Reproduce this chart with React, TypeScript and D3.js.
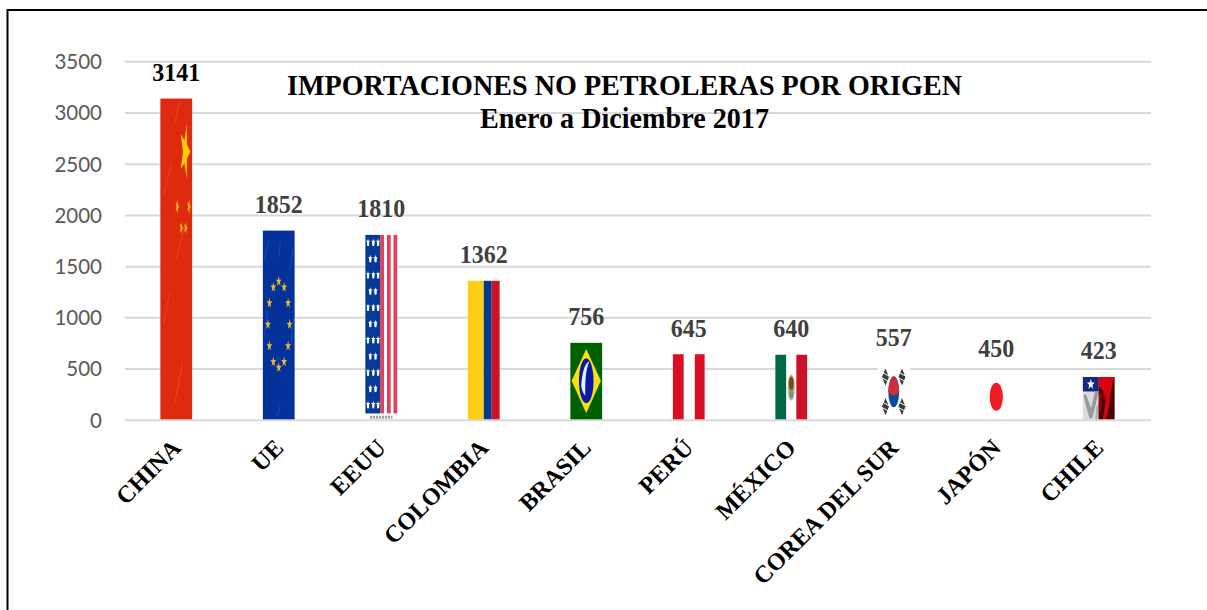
import React from 'react';
import * as d3 from 'd3';

const categories = ['CHINA','UE','EEUU','COLOMBIA','BRASIL','PERÚ','MÉXICO','COREA DEL SUR','JAPÓN','CHILE'];
const values = [3141,1852,1810,1362,756,645,640,557,450,423];
const yTicks = [0,500,1000,1500,2000,2500,3000,3500];

const W = 1207, H = 610;
const x = d3.scaleBand<string>().domain(categories).range([125,1150]).paddingInner(0.69).paddingOuter(0.345);
const y = d3.scaleLinear().domain([0,3500]).range([420.3,61.8]);

function star(cx:number,cy:number,rx:number,ry:number,fill:string,rot=0){
  const pts:[number,number][] = d3.range(10).map(i=>{
    const a=-Math.PI/2+i*Math.PI/5+rot; const r=i%2?0.4:1;
    return [cx+Math.cos(a)*rx*r, cy+Math.sin(a)*ry*r];
  });
  return <polygon key={`${cx}-${cy}`} points={pts.map(p=>p.join(',')).join(' ')} fill={fill}/>;
}

function Flag({name,bx,by,w,h}:{name:string,bx:number,by:number,w:number,h:number}){
  const cx=bx+w/2;
  const px=(f:number)=>bx+w*f, py=(f:number)=>by+h*f;
  const streak=(x0:number,y0:number,x1:number,y1:number,c:string)=>
    <line key={`${x0}-${y0}`} x1={px(x0)} y1={py(y0)} x2={px(x1)} y2={py(y1)} stroke={c} strokeWidth={1} opacity={0.45}/>;
  const poly=(pts:[number,number][],fill:string)=>
    <polygon key={pts.join('|')} points={pts.map(([a,b])=>`${px(a)},${py(b)}`).join(' ')} fill={fill}/>;
  switch(name){
    case 'CHINA': return <g>
      <rect x={bx} y={by} width={w} height={h} fill="#de2b10"/>
      {streak(0.6,0.01,0.45,0.08,'#f0693e')}
      {streak(0.35,0.2,0.1,0.3,'#ee5f36')}
      {streak(0.75,0.4,0.5,0.5,'#ee5f36')}
      {streak(0.3,0.6,0.1,0.7,'#ee5f36')}
      {streak(0.7,0.82,0.45,0.95,'#f0693e')}
      {star(px(0.78),py(0.165),w*0.17,h*0.092,'#fdcf02',Math.PI/2)}
      {star(px(0.53),py(0.336),w*0.065,h*0.026,'#f5b315',Math.PI/2)}
      {star(px(0.9),py(0.336),w*0.065,h*0.026,'#f5b315',Math.PI/2)}
      {star(px(0.66),py(0.402),w*0.065,h*0.022,'#f5b315',Math.PI/2)}
      {star(px(0.8),py(0.402),w*0.065,h*0.022,'#f5b315',Math.PI/2)}
    </g>;
    case 'UE': {
      const ring=d3.range(12).map(i=>{
        const a=i*Math.PI/6;
        return star(cx+Math.sin(a)*w*0.34,py(0.495)-Math.cos(a)*h*0.227,3,5.5,'#e8b92c');
      });
      return <g>
        <rect x={bx} y={by} width={w} height={h} fill="#05319b"/>
        {streak(0.2,0.05,0.05,0.15,'#3f63bb')}
        {streak(0.55,0.05,0.5,0.14,'#3f63bb')}
        {streak(0.95,0.1,0.85,0.2,'#3f63bb')}
        {streak(0.15,0.42,0.05,0.55,'#3f63bb')}
        {streak(0.98,0.45,0.88,0.6,'#3f63bb')}
        {streak(0.55,0.92,0.45,0.98,'#3f63bb')}
        {ring}
      </g>;
    }
    case 'EEUU': {
      const fh=h*0.963;
      const stripes=[0.47,0.68,0.885].map(f=><rect key={f} x={px(f)} y={by} width={w*0.118} height={fh} fill="#e2405a"/>);
      const rows=d3.range(11).flatMap(r=>{
        const cols=r%2?[0.156,0.32]:[0.083,0.25,0.4];
        return cols.map(c=><g key={`${r}-${c}`}>
          {star(px(c),by+fh*(r+0.42)/11,w*0.075,fh*0.018,'#fff')}
          <rect x={px(c)-1} y={by+fh*(r+0.42)/11} width={2} height={fh*0.024} fill="#fff"/>
        </g>);
      });
      return <g>
        <rect x={bx} y={by} width={w} height={h} fill="#fff"/>
        {stripes}
        <rect x={bx} y={by} width={w*0.47} height={fh} fill="#063a96"/>
        {rows}
        <line x1={px(0.15)} x2={px(0.85)} y1={py(0.983)} y2={py(0.983)} stroke="#9a9a9a" strokeWidth={3} strokeDasharray="2 1"/>
      </g>;
    }
    case 'COLOMBIA': return <g>
      <rect x={bx} y={by} width={w*0.5} height={h} fill="#fdce12"/>
      <rect x={px(0.5)} y={by} width={w*0.25} height={h} fill="#053a8e"/>
      <rect x={px(0.75)} y={by} width={w*0.25} height={h} fill="#ce1126"/>
    </g>;
    case 'BRASIL': return <g>
      <rect x={bx} y={by} width={w} height={h} fill="#006000"/>
      <polygon points={`${cx},${py(0.08)} ${px(0.96)},${py(0.49)} ${cx},${py(0.91)} ${px(0.04)},${py(0.49)}`} fill="#f9e10c"/>
      <ellipse cx={cx} cy={py(0.49)} rx={w*0.23} ry={h*0.29} fill="#0a1aa8"/>
      <path d={`M${px(0.34)},${py(0.55)} Q${px(0.4)},${py(0.26)} ${px(0.6)},${py(0.24)} Q${px(0.45)},${py(0.36)} ${px(0.47)},${py(0.68)} Q${px(0.37)},${py(0.64)} ${px(0.34)},${py(0.55)}`} fill="#e8eef8"/>
    </g>;
    case 'PERÚ': return <g>
      <rect x={bx} y={by} width={w} height={h} fill="#fff"/>
      <rect x={bx} y={by} width={w*0.34} height={h} fill="#d91023"/>
      <rect x={px(0.69)} y={by} width={w*0.31} height={h} fill="#d91023"/>
    </g>;
    case 'MÉXICO': return <g>
      <rect x={bx} y={by} width={w} height={h} fill="#fff"/>
      <rect x={bx} y={by} width={w*0.34} height={h} fill="#006847"/>
      <rect x={px(0.66)} y={by} width={w*0.34} height={h} fill="#ce1126"/>
      <ellipse cx={cx} cy={py(0.5)} rx={w*0.115} ry={h*0.2} fill="#c9b48c"/>
      <ellipse cx={cx} cy={py(0.44)} rx={w*0.08} ry={h*0.11} fill="#7a4a1c"/>
      <ellipse cx={cx} cy={py(0.6)} rx={w*0.07} ry={h*0.07} fill="#6f9c8c"/>
    </g>;
    case 'COREA DEL SUR': {
      const ry=h*0.27, cyy=py(0.5), rx=w*0.17;
      const mark=(fx:number,fy:number)=>{
        const mw=w*0.11, mh=h*0.15, mx=px(fx), my=py(fy);
        return <g key={`${fx}-${fy}`}>
          <polygon points={`${mx},${my-mh} ${mx+mw},${my} ${mx},${my+mh} ${mx-mw},${my}`} fill="#3c3c3c"/>
          {[-0.33,0.33].map(t=><line key={t} x1={mx-mw} x2={mx+mw} y1={my+t*mh-2} y2={my+t*mh+2} stroke="#fff" strokeWidth={1}/>)}
        </g>;
      };
      return <g>
        <rect x={bx} y={by} width={w} height={h} fill="#fff"/>
        {mark(0.24,0.24)}{mark(0.76,0.24)}{mark(0.24,0.76)}{mark(0.76,0.76)}
        <ellipse cx={cx} cy={cyy} rx={rx} ry={ry} fill="#0a4ba0"/>
        <path d={`M${cx-rx},${cyy} A${rx},${ry} 0 0 1 ${cx+rx},${cyy} Q${cx},${cyy+ry*0.5} ${cx-rx},${cyy}Z`} fill="#cd2e3a"/>
      </g>;
    }
    case 'JAPÓN': return <g>
      <rect x={bx} y={by} width={w} height={h} fill="#fff"/>
      <ellipse cx={cx} cy={py(0.49)} rx={w*0.21} ry={h*0.305} fill="#ee1c25"/>
    </g>;
    case 'CHILE': return <g>
      <rect x={bx} y={by} width={w*0.5} height={h*0.34} fill="#0f2a80"/>
      {star(px(0.25),py(0.17),w*0.13,h*0.13,'#fff')}
      <rect x={bx} y={py(0.34)} width={w*0.5} height={h*0.66} fill="#dcdcdc"/>
      {poly([[0.5,0.34],[0.38,0.34],[0.26,0.72],[0.1,0.4],[0.02,0.42],[0.2,0.95],[0.3,0.95]],'#9a9a9a')}
      {poly([[0.42,0.7],[0.5,0.6],[0.5,1],[0.38,1]],'#b0b0b0')}
      <rect x={px(0.5)} y={by} width={w*0.5} height={h} fill="#4a0305"/>
      {poly([[0.5,0],[0.98,0],[0.88,0.35],[0.82,0.7],[0.72,1],[0.62,1],[0.72,0.55],[0.62,0.3],[0.5,0.22]],'#d6040c')}
      {poly([[0.5,0.35],[0.6,0.42],[0.6,0.7],[0.5,0.85]],'#8e0409')}
    </g>;
    default: return null;
  }
}

export default function App(){
  const serif='"Liberation Serif","Times New Roman",serif';
  return (
    <svg width={W} height={H} style={{position:'absolute',left:0,top:0,background:'#fff'}}>
      <path d={`M7.5,${H} V10 H${W}`} fill="none" stroke="#000" strokeWidth={2}/>
      {yTicks.map(t=><g key={t}>
        {t!==0 && <line x1={125} x2={1151} y1={y(t)} y2={y(t)} stroke="#d9d9d9" strokeWidth={2}/>}
        <text x={102} y={y(t)+7.3} textAnchor="end" fontFamily="Lato,'Open Sans',sans-serif" fontSize={20.5} fill="#595959">{t}</text>
      </g>)}
      {categories.map((c,i)=>{
        const bx=x(c)!, w=x.bandwidth(), by=y(values[i]), h=y(0)-by;
        const label=String(values[i]);
        return <g key={c}>
          <Flag name={c} bx={bx} by={by} w={w} h={h}/>
          <text x={bx+w/2-label.length*6} y={by-17.5} textLength={label.length*12} lengthAdjust="spacingAndGlyphs" fontFamily={serif} fontWeight="bold" fontSize={25} fill={i===0?'#000':'#404040'}>{label}</text>
          <text transform={`translate(${bx+w/2+6},${y(0)+29}) rotate(-45)`} textAnchor="end" fontFamily={serif} fontWeight="bold" fontSize={24} fill="#000">{c}</text>
        </g>;
      })}
      <line x1={125} x2={1151} y1={y(0)} y2={y(0)} stroke="#d9d9d9" strokeWidth={2}/>
      <text x={287} y={95} textLength={675} lengthAdjust="spacingAndGlyphs" fontFamily={serif} fontWeight="bold" fontSize={29} fill="#000">IMPORTACIONES NO PETROLERAS POR ORIGEN</text>
      <text x={480} y={127.5} textLength={289} lengthAdjust="spacingAndGlyphs" fontFamily={serif} fontWeight="bold" fontSize={29} fill="#000">Enero a Diciembre 2017</text>
    </svg>
  );
}
